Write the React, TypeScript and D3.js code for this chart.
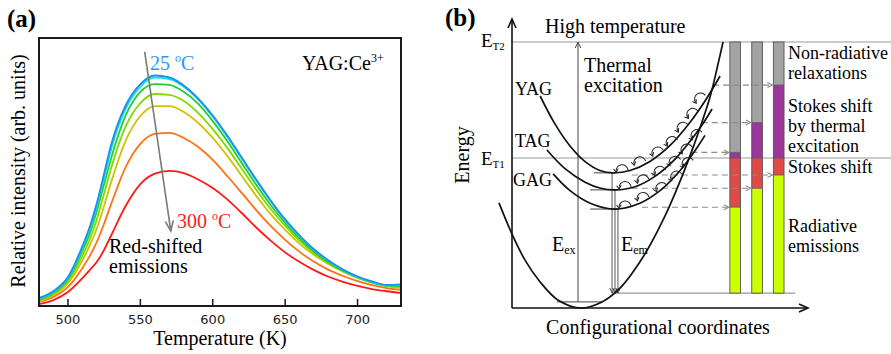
import React from "react";
import * as d3 from "d3";

const SERIF = "'Liberation Serif', 'Times New Roman', serif";
const SANS = "'DejaVu Sans', Verdana, sans-serif";

// ---------- panel (a): emission spectra ----------
const temperatures = [480, 490, 500, 510, 515, 520, 525, 530, 540, 550, 560, 570, 580, 590, 600, 610, 620, 630, 640, 650, 660, 670, 680, 690, 700, 710, 720, 730];
const xTicks = [500, 550, 600, 650, 700];

const s25 = [3.0, 5.6, 10.8, 22.4, 29.5, 38.5, 49.5, 60.5, 75.0, 82.8, 86.0, 85.3, 82.3, 77.4, 71.1, 63.6, 55.4, 47.2, 39.4, 32.3, 26.3, 21.1, 17.0, 13.6, 11.0, 9.2, 7.9, 8.1];
const s2 = [2.7, 5.3, 10.5, 21.8, 28.7, 37.5, 48.0, 58.8, 73.8, 81.9, 85.2, 84.7, 81.8, 77.0, 70.6, 63.2, 55.0, 46.8, 39.1, 32.0, 26.1, 20.9, 16.8, 13.4, 10.8, 9.0, 7.7, 7.8];
const s3 = [2.4, 4.9, 10.0, 20.5, 27.0, 35.5, 45.5, 55.5, 71.3, 79.9, 82.8, 82.5, 79.9, 75.4, 69.0, 61.6, 53.4, 45.2, 37.7, 31.0, 25.1, 20.2, 16.3, 13.2, 10.7, 8.9, 7.6, 7.4];
const s4 = [2.2, 4.5, 9.3, 18.7, 24.8, 32.5, 42.0, 51.8, 67.2, 75.7, 79.1, 78.8, 76.5, 72.0, 66.0, 59.0, 51.2, 43.4, 36.2, 29.9, 24.3, 19.7, 16.0, 13.0, 10.6, 8.8, 7.5, 7.1];
const s5 = [1.9, 4.1, 8.5, 17.0, 22.5, 29.0, 37.5, 46.5, 61.9, 70.9, 74.6, 74.6, 72.4, 68.3, 62.7, 56.0, 48.6, 41.1, 34.3, 28.4, 23.2, 19.0, 15.6, 12.8, 10.5, 8.7, 7.4, 6.7];
const s6 = [1.5, 3.4, 7.1, 14.2, 18.6, 24.0, 30.8, 38.3, 52.0, 60.5, 64.2, 64.6, 62.7, 59.3, 54.5, 48.5, 42.2, 35.8, 29.9, 24.7, 20.2, 16.5, 13.5, 11.2, 9.3, 7.8, 6.7, 6.0];
const s300 = [0.7, 2.2, 5.2, 10.4, 13.4, 16.5, 21.0, 26.5, 37.5, 45.5, 49.4, 50.4, 49.6, 47.2, 44.0, 39.8, 34.7, 29.3, 24.4, 20.0, 16.4, 13.4, 10.9, 9.0, 7.5, 6.3, 5.5, 4.9];

const spectra = [s300, s6, s5, s4, s3, s2, s25];
const spectraColors = ["#ff1a1a", "#ff7214", "#d2c200", "#7ddc00", "#22cc33", "#16dcdc", "#1e8cf5"];

// gray trend arrow (temperature, intensity)
const trendFrom = [553, 94.8];
const trendTo = [571, 28];

// ---------- panel (b): configurational coordinate diagram ----------
const groundState = [[-4.4, 39.5], [0, 27.8], [4.4, 18.0], [9.5, 9.8], [15.5, 3.0], [23.0, 0], [29.7, 1.9], [36.5, 7.5], [44.9, 20.3], [51.7, 34.6], [56.8, 47.7], [60.1, 57.1], [63.5, 67.7], [66.9, 79.3], [69.3, 90.2], [71.3, 100]];
const yagState = [[9.5, 79.7], [14.5, 69.2], [19.6, 60.9], [24.7, 55.0], [29.7, 51.7], [34.1, 50.8], [39.9, 51.7], [46.6, 55.1], [53.4, 61.1], [60.1, 69.7], [65.2, 77.8], [70.3, 87.2]];
const tagState = [[11.8, 59.4], [17.9, 52.4], [24.7, 47.3], [29.7, 45.1], [34.8, 44.4], [41.6, 45.6], [48.3, 49.5], [55.1, 56.0], [60.1, 62.6], [64.2, 68.8], [67.6, 74.8]];
const gagState = [[13.9, 50.4], [19.6, 44.1], [26.4, 39.4], [34.8, 37.2], [43.2, 39.4], [50.0, 44.1], [56.8, 51.7], [61.8, 59.1], [65.2, 64.9]];

const ET2 = 100;
const ET1 = 56.4;
const E_BASE = 5.6;

// flat lines at the bottom of each well [q0, q1, E]
const wellBottoms = [[27.7, 34.8, 50.8], [26.4, 35.8, 44.4], [26.4, 36.1, 37.2], [15.2, 30.7, 2.3]];
// emission lines [q, top E]
const emissions = [[33.8, 50.8], [34.8, 44.4], [35.8, 37.2]];
const excitationQ = 22.3;

// bars: left edge, top of purple, top of yellow
const barQ = [73.6, 81.0, 88.3];
const barWidth = 3.6;
const grayBottom = [58.5, 69.7, 83.8];
const redBottom = [37.9, 45.0, 50.0];

// dashed arrows [E, start q, bar index]
const dashed = [[83.8, 67.9, 2], [69.7, 64.1, 1], [58.5, 60.6, 0], [50.0, 40.5, 2], [45.0, 40.5, 1], [37.9, 43.9, 0]];

// thermal hops along each well [q, E, tilt deg]
const hops = [
  [37.2, 51.6, 6], [43.2, 54.6, 15], [49.3, 58.3, 22], [54.1, 62.2, 27], [57.8, 67.6, 31], [61.1, 72.8, 34], [63.7, 78.6, 36],
  [38.2, 45.3, 5], [44.3, 47.8, 14], [50.0, 51.0, 21], [55.1, 54.8, 26], [59.1, 59.4, 30], [62.5, 64.8, 34],
  [38.2, 38.0, 5], [44.3, 41.2, 15], [50.6, 44.9, 22], [55.6, 49.2, 28], [59.5, 54.3, 32],
];

const xA = d3.scaleLinear().domain([480, 730]).range([39, 401]);
const yA = d3.scaleLinear().domain([0, 100]).range([306, 38]);
const xB = d3.scaleLinear().domain([0, 100]).range([512, 808]);
const yB = d3.scaleLinear().domain([0, 100]).range([308, 42]);

function head(x: number, y: number, ang: number, len: number, half: number) {
  const bx = x - len * Math.cos(ang), by = y - len * Math.sin(ang);
  const px = -Math.sin(ang) * half, py = Math.cos(ang) * half;
  return `M${bx + px},${by + py}L${x},${y}L${bx - px},${by - py}`;
}

export default function App() {
  const spectrumLine = d3
    .line<number>()
    .x((_, i) => xA(temperatures[i]))
    .y((d) => yA(d))
    .curve(d3.curveMonotoneX);

  const well = d3
    .line<number[]>()
    .x((d) => xB(d[0]))
    .y((d) => yB(d[1]))
    .curve(d3.curveCatmullRom.alpha(0.5));

  const tx0 = xA(trendFrom[0]), ty0 = yA(trendFrom[1]);
  const tx1 = xA(trendTo[0]), ty1 = yA(trendTo[1]);
  const tAng = Math.atan2(ty1 - ty0, tx1 - tx0);

  const r = 6;

  return (
    <svg width={891} height={354} style={{ position: "absolute", left: 0, top: 0, background: "#fff" }}>
      {/* ===== panel (a) ===== */}
      <text x={7} y={27} fontFamily={SERIF} fontWeight="bold" fontSize={25}>(a)</text>
      <g>
        {spectra.map((s, i) => (
          <path key={i} d={spectrumLine(s) || ""} fill="none" stroke={spectraColors[i]} strokeWidth={1.8} />
        ))}
      </g>
      <line x1={tx0} y1={ty0} x2={tx1} y2={ty1} stroke="#7a7a7a" strokeWidth={1.6} />
      <path d={head(tx1, ty1, tAng, 10, 4)} fill="none" stroke="#7a7a7a" strokeWidth={1.6} />
      <rect x={39} y={38} width={362} height={268} fill="none" stroke="#1a1a1a" strokeWidth={2} />
      {xTicks.map((t) => (
        <g key={t}>
          <line x1={xA(t)} x2={xA(t)} y1={306} y2={299} stroke="#1a1a1a" strokeWidth={1.5} />
          <text x={xA(t)} y={324} textAnchor="middle" fontFamily={SANS} fontSize={13} fill="#222">{t}</text>
        </g>
      ))}
      <text x={220} y={345} textAnchor="middle" fontFamily={SERIF} fontSize={20}>Temperature (K)</text>
      <text transform="translate(25,171) rotate(-90)" textAnchor="middle" fontFamily={SERIF} fontSize={20}>Relative intensity (arb. units)</text>
      <text x={150} y={70} fontFamily={SERIF} fontSize={20} fill="#2f95f0">
        25 <tspan fontSize={12} dy={-8}>o</tspan><tspan dy={8}>C</tspan>
      </text>
      <text x={177} y={228} fontFamily={SERIF} fontSize={20} fill="#ff2020">
        300 <tspan fontSize={12} dy={-8}>o</tspan><tspan dy={8}>C</tspan>
      </text>
      <text x={109} y={253} fontFamily={SERIF} fontSize={20}>Red-shifted</text>
      <text x={109} y={273} fontFamily={SERIF} fontSize={20}>emissions</text>
      <text x={302} y={70} fontFamily={SERIF} fontSize={20}>
        YAG:Ce<tspan fontSize={12} dy={-8}>3+</tspan>
      </text>

      {/* ===== panel (b) ===== */}
      <text x={445} y={26} fontFamily={SERIF} fontWeight="bold" fontSize={25}>(b)</text>

      {/* reference levels */}
      <line x1={xB(0)} x2={891} y1={yB(ET2)} y2={yB(ET2)} stroke="#999" strokeWidth={1.2} />
      <line x1={xB(0)} x2={891} y1={yB(ET1)} y2={yB(ET1)} stroke="#999" strokeWidth={1.2} />
      <line x1={xB(33.8)} x2={xB(95.6)} y1={yB(E_BASE)} y2={yB(E_BASE)} stroke="#999" strokeWidth={1.2} />

      {/* bars */}
      {barQ.map((q, i) => {
        const x = xB(q), w = xB(q + barWidth) - xB(q);
        const segs = [
          [ET2, grayBottom[i], "#a3a3a3"],
          [grayBottom[i], ET1, "#9b379b"],
          [ET1, redBottom[i], "#de4a48"],
          [redBottom[i], E_BASE, "#ccff00"],
        ] as [number, number, string][];
        return (
          <g key={i}>
            {segs.map(([a, b, c], j) => (
              <rect key={j} x={x} y={yB(a)} width={w} height={yB(b) - yB(a)} fill={c} />
            ))}
            <rect x={x} y={yB(ET2)} width={w} height={yB(E_BASE) - yB(ET2)} fill="none" stroke="#555" strokeWidth={0.9} />
            {segs.slice(0, 3).map(([, b], j) => (
              <line key={"l" + j} x1={x} x2={x + w} y1={yB(b)} y2={yB(b)} stroke="#555" strokeWidth={0.8} />
            ))}
          </g>
        );
      })}

      {/* dashed arrows */}
      {dashed.map(([e, q0, bi], i) => {
        const x0 = xB(q0), x1 = xB(barQ[bi]) - 1, y = yB(e);
        return (
          <g key={i}>
            <line x1={x0} x2={x1} y1={y} y2={y} stroke="#8c8c8c" strokeWidth={1.1} strokeDasharray="6,4" />
            <path d={head(x1, y, 0, 5, 2.5)} fill="none" stroke="#8c8c8c" strokeWidth={1.1} />
          </g>
        );
      })}

      {/* excitation arrow */}
      <line x1={xB(excitationQ)} x2={xB(excitationQ)} y1={yB(2.3)} y2={yB(ET2)} stroke="#444" strokeWidth={1} />
      <path d={head(xB(excitationQ), yB(ET2), -Math.PI / 2, 6, 2.8)} fill="none" stroke="#444" strokeWidth={1} />

      {/* well bottoms and emission lines */}
      {wellBottoms.map(([q0, q1, e], i) => (
        <line key={i} x1={xB(q0)} x2={xB(q1)} y1={yB(e)} y2={yB(e)} stroke="#444" strokeWidth={1} />
      ))}
      {emissions.map(([q, e], i) => (
        <g key={i}>
          <line x1={xB(q)} x2={xB(q)} y1={yB(e)} y2={yB(E_BASE)} stroke="#444" strokeWidth={0.9} />
          <path d={head(xB(q), yB(E_BASE), Math.PI / 2, 5, 2.2)} fill="none" stroke="#444" strokeWidth={0.9} />
        </g>
      ))}

      {/* potential wells */}
      {[groundState, yagState, tagState, gagState].map((c, i) => (
        <path key={i} d={well(c) || ""} fill="none" stroke="#111" strokeWidth={1.7} />
      ))}

      {/* thermal hops */}
      {hops.map(([q, e, tilt], i) => (
        <g key={i} transform={`translate(${xB(q)},${yB(e)}) rotate(${-tilt})`}>
          <path d={`M${r},0A${r},${r} 0 0 0 ${-r},0`} fill="none" stroke="#222" strokeWidth={1} />
          <path d={head(-r, 1, Math.PI / 2, 3.5, 2.3)} fill="none" stroke="#222" strokeWidth={1} />
        </g>
      ))}

      {/* axes */}
      <line x1={xB(0)} x2={xB(0)} y1={yB(0)} y2={19} stroke="#111" strokeWidth={1.6} />
      <path d={head(xB(0), 19, -Math.PI / 2, 9, 4)} fill="none" stroke="#111" strokeWidth={1.6} />
      <line x1={xB(0)} x2={808} y1={yB(0)} y2={yB(0)} stroke="#111" strokeWidth={1.6} />
      <path d={head(808, yB(0), 0, 9, 4)} fill="none" stroke="#111" strokeWidth={1.6} />

      {/* labels */}
      <text x={545} y={33} fontFamily={SERIF} fontSize={20}>High temperature</text>
      <text x={481} y={47} fontFamily={SERIF} fontSize={19}>E<tspan fontSize={11} dy={3}>T2</tspan></text>
      <text x={481} y={165} fontFamily={SERIF} fontSize={19}>E<tspan fontSize={11} dy={3}>T1</tspan></text>
      <text x={584} y={72} fontFamily={SERIF} fontSize={20}>Thermal</text>
      <text x={584} y={92} fontFamily={SERIF} fontSize={20}>excitation</text>
      <text x={515} y={95} fontFamily={SERIF} fontSize={18}>YAG</text>
      <text x={515} y={147} fontFamily={SERIF} fontSize={18}>TAG</text>
      <text x={513} y={186} fontFamily={SERIF} fontSize={18}>GAG</text>
      <text x={552} y={251} fontFamily={SERIF} fontSize={20}>E<tspan fontSize={12} dy={3}>ex</tspan></text>
      <text x={621} y={251} fontFamily={SERIF} fontSize={20}>E<tspan fontSize={12} dy={3}>em</tspan></text>
      <text transform="translate(469,155) rotate(-90)" textAnchor="middle" fontFamily={SERIF} fontSize={20}>Energy</text>
      <text x={658} y={334} textAnchor="middle" fontFamily={SERIF} fontSize={20}>Configurational coordinates</text>
      <g fontFamily={SERIF} fontSize={18}>
        <text x={788} y={59}>Non-radiative</text>
        <text x={788} y={79}>relaxations</text>
        <text x={788} y={112}>Stokes shift</text>
        <text x={788} y={132}>by thermal</text>
        <text x={788} y={152}>excitation</text>
        <text x={788} y={173}>Stokes shift</text>
        <text x={788} y={232}>Radiative</text>
        <text x={788} y={252}>emissions</text>
      </g>
    </svg>
  );
}
